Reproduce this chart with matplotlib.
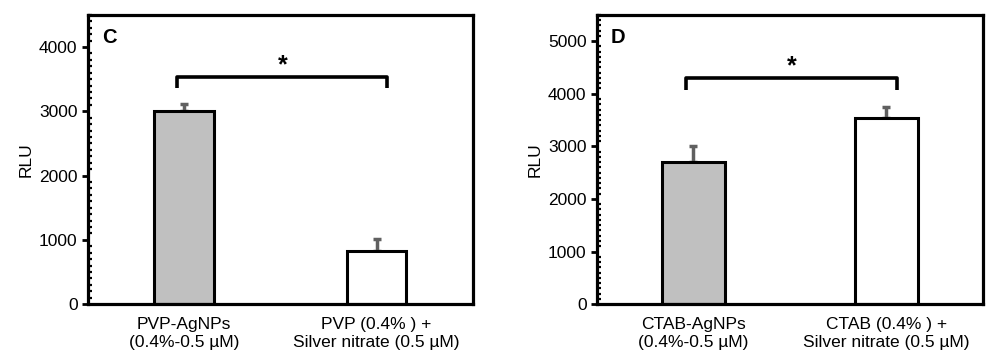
import matplotlib.pyplot as plt
from matplotlib.ticker import MultipleLocator

plt.rcParams['font.family'] = ['Liberation Sans', 'DejaVu Sans']

# --- Data ---
labels_c = ["PVP-AgNPs\n(0.4%-0.5 µM)", "PVP (0.4% ) +\nSilver nitrate (0.5 µM)"]
values_c = [3000, 830]
errors_c = [110, 180]

labels_d = ["CTAB-AgNPs\n(0.4%-0.5 µM)", "CTAB (0.4% ) +\nSilver nitrate (0.5 µM)"]
values_d = [2710, 3530]
errors_d = [290, 210]

bar_colors = ["#c0c0c0", "white"]


def draw_panel(ax, labels, values, errors, letter, ymax, bracket_y, bracket_drop, bar_w):
    x = list(range(len(values)))
    ax.bar(x, values, width=bar_w, color=bar_colors, edgecolor="black", linewidth=2.2, zorder=2)
    ax.errorbar(x, values, yerr=[[0] * len(errors), errors], fmt="none",
                ecolor="#606060", elinewidth=2.5, capsize=3, capthick=2.5, zorder=1)

    ax.set_xlim(-0.5, 1.5)
    ax.set_ylim(0, ymax)
    ax.set_xticks(x)
    ax.set_xticklabels(labels, fontsize=12.5, linespacing=1.25)
    ax.tick_params(axis="x", length=0, pad=9)
    ax.yaxis.set_major_locator(MultipleLocator(1000))
    ax.yaxis.set_minor_locator(MultipleLocator(100))
    ax.tick_params(axis="y", which="major", direction="out", length=4, width=2, labelsize=12.5)
    ax.tick_params(axis="y", which="minor", direction="in", length=3, width=1.6)
    ax.set_ylabel("RLU", fontsize=12.5, labelpad=4)
    for s in ax.spines.values():
        s.set_linewidth(2.3)

    # significance bracket
    x0, x1 = -0.04, 1.055
    ax.plot([x0, x0, x1, x1], [bracket_y - bracket_drop, bracket_y, bracket_y, bracket_y - bracket_drop],
            color="black", linewidth=2.6, solid_joinstyle="round", solid_capstyle="butt")
    ax.text(0.51, bracket_y, "*", ha="center", va="bottom", fontsize=18, fontweight="bold")

    ax.text(0.036, 0.955, letter, transform=ax.transAxes, ha="left", va="top",
            fontsize=14.5, fontweight="bold")


fig = plt.figure(figsize=(9.92, 3.54), dpi=100)
ax_c = fig.add_axes([0.0887, 0.141, 0.388, 0.817])
ax_d = fig.add_axes([0.6018, 0.141, 0.389, 0.817])

draw_panel(ax_c, labels_c, values_c, errors_c, "C", 4500, 3530, 170, 0.31)
draw_panel(ax_d, labels_d, values_d, errors_d, "D", 5500, 4290, 225, 0.33)

plt.savefig("out.png", dpi=100)
